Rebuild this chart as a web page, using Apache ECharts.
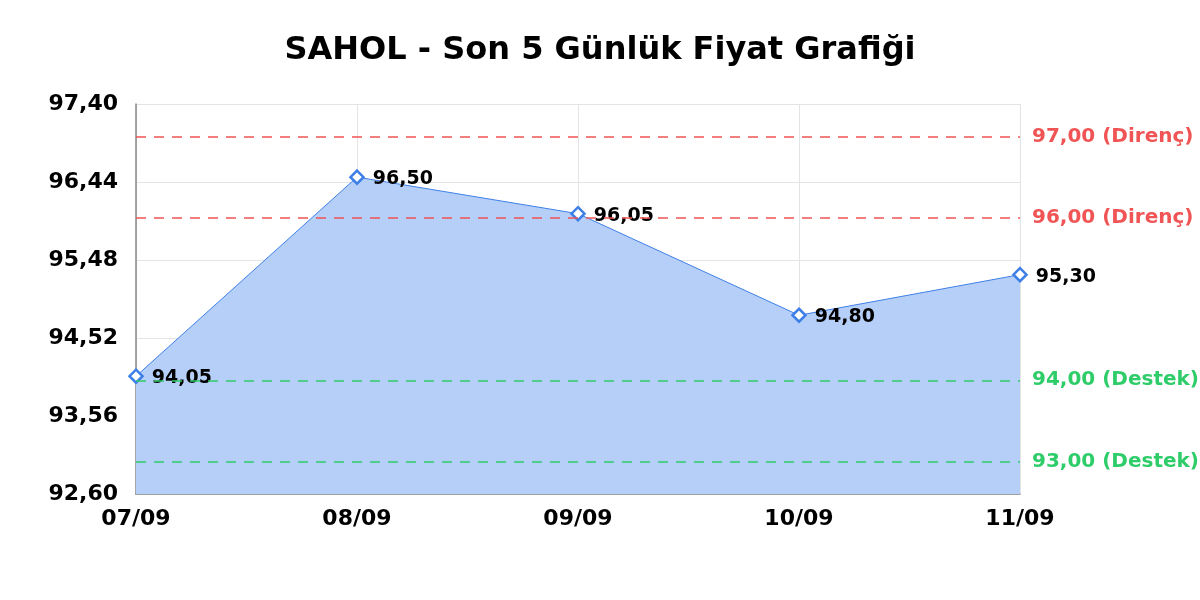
<!DOCTYPE html>
<html><head><meta charset="utf-8">
<script src="https://cdn.jsdelivr.net/npm/echarts@6/dist/echarts.min.js"></script>
<style>html,body{margin:0;padding:0;background:#fff}#c{width:1200px;height:600px}</style>
</head><body><div id="c"></div>
<script>
const categories = ['07/09','08/09','09/09','10/09','11/09'];
const prices = [94.05, 96.50, 96.05, 94.80, 95.30];
const resistance = [97.00, 96.00];
const support = [94.00, 93.00];
const yMin = 92.60, yMax = 97.40, yStep = 0.96;

const fmt = v => v.toFixed(2).replace('.', ',');
const F = 'DejaVu Sans';
const chart = echarts.init(document.getElementById('c'));
const lineCol = '#3d7fe6';
const red = '#f05454', green = '#2fcc6a';
const ml = (v, col, name) => ({
  yAxis: v - yMin,
  lineStyle: {color: col, type: [10, 8], width: 1.5},
  label: {show: true, position: 'end', distance: 12, color: col, fontFamily: F, fontWeight: 'bold', fontSize: 20,
    formatter: fmt(v) + ' (' + name + ')'}
});
chart.setOption({
  animation: false,
  title: {text: 'SAHOL - Son 5 Günlük Fiyat Grafiği', left: 'center', top: 30,
    textStyle: {fontFamily: F, fontWeight: 'bold', fontSize: 32, color: '#000'}},
  grid: {left: 136, right: 180, top: 104, bottom: 106},
  xAxis: {type: 'category', data: categories, boundaryGap: false,
    axisLine: {lineStyle: {color: '#888', width: 1.5}}, axisTick: {show: false},
    axisLabel: {fontFamily: F, fontWeight: 'bold', fontSize: 22, color: '#000', margin: 14},
    splitLine: {show: true, lineStyle: {color: '#e4e4e4'}}},
  yAxis: {type: 'value', min: 0, max: yMax - yMin, interval: yStep,
    axisLine: {show: true, lineStyle: {color: '#888', width: 1.5}}, axisTick: {show: false},
    axisLabel: {fontFamily: F, fontWeight: 'bold', fontSize: 22, color: '#000', margin: 18,
      formatter: v => fmt(v + yMin)},
    splitLine: {show: true, lineStyle: {color: '#e4e4e4'}}},
  series: [{
    type: 'line', data: prices.map(p => p - yMin),
    symbol: 'diamond', symbolSize: 13,
    itemStyle: {color: '#fff', borderColor: lineCol, borderWidth: 2.5},
    lineStyle: {color: lineCol, width: 1},
    areaStyle: {color: '#b6cff8', opacity: 1},
    label: {show: true, position: 'right', distance: 8, offset: [0, 2], color: '#000', fontFamily: F, fontWeight: 'bold', fontSize: 19,
      formatter: p => fmt(prices[p.dataIndex])},
    markLine: {symbol: 'none', silent: true,
      data: [ml(resistance[0], red, 'Direnç'), ml(resistance[1], red, 'Direnç'),
             ml(support[0], green, 'Destek'), ml(support[1], green, 'Destek')]}
  }]
});
</script></body></html>
